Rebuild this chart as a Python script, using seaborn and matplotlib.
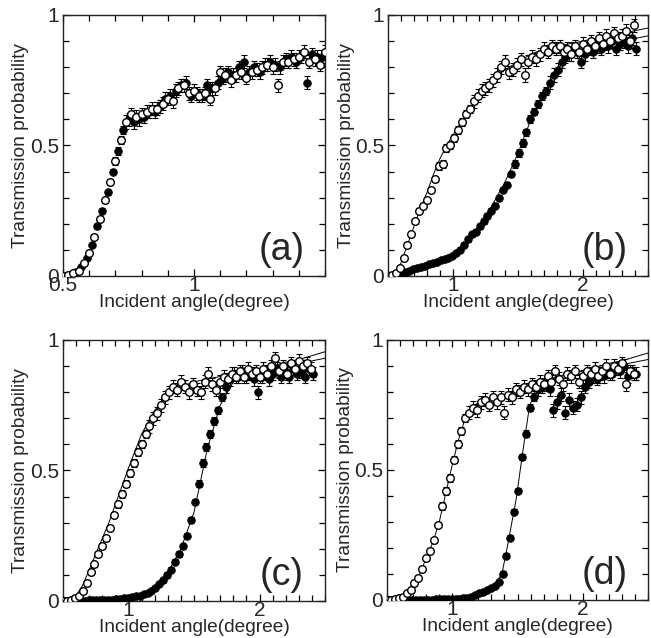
import numpy as np
import matplotlib
matplotlib.use("Agg")
import matplotlib.pyplot as plt
import seaborn as sns
from matplotlib.ticker import MultipleLocator

sns.set_style("ticks")
plt.rcParams['font.family'] = ['Liberation Sans', 'DejaVu Sans']

# --- panel (a): two data sets that overlap
xa_open = np.round(np.arange(0.50, 1.51, 0.02), 3)
ya_open = [0.00, 0.005, 0.01, 0.02, 0.05, 0.09, 0.15, 0.22, 0.29, 0.36,
           0.44, 0.52, 0.59, 0.62, 0.61, 0.62, 0.63, 0.64, 0.64, 0.66,
           0.68, 0.67, 0.72, 0.73, 0.70, 0.71, 0.69, 0.70, 0.68, 0.72,
           0.78, 0.77, 0.75, 0.77, 0.78, 0.76, 0.78, 0.79, 0.80, 0.81,
           0.80, 0.73, 0.82, 0.82, 0.83, 0.84, 0.86, 0.82, 0.83, 0.81,
           0.86]
ea_open = [0.005] * 6 + [0.01] * 4 + [0.015] * 2 + [0.025] * 39

xa_fill = np.round(np.arange(0.51, 1.50, 0.02), 3)
ya_fill = [0.00, 0.005, 0.015, 0.035, 0.07, 0.12, 0.19, 0.25, 0.32, 0.40,
           0.48, 0.56, 0.60, 0.59, 0.60, 0.61, 0.63, 0.63, 0.65, 0.68,
           0.69, 0.71, 0.73, 0.74, 0.69, 0.70, 0.69, 0.73, 0.72, 0.74,
           0.76, 0.78, 0.77, 0.80, 0.82, 0.78, 0.80, 0.78, 0.81, 0.82,
           0.81, 0.80, 0.83, 0.84, 0.82, 0.84, 0.74, 0.85, 0.84, 0.84]
ea_fill = [0.005] * 6 + [0.01] * 4 + [0.015] * 2 + [0.025] * 38

# --- panels (b)-(d): common angle grid
x_open = np.round(np.arange(0.50, 2.40, 0.03), 3)
x_fill = np.round(np.arange(0.515, 2.42, 0.03), 3)

yb_open = [0.00, 0.005, 0.01, 0.03, 0.07, 0.12, 0.16, 0.21, 0.25, 0.27,
           0.29, 0.33, 0.37, 0.42, 0.43, 0.49, 0.50, 0.53, 0.56, 0.59,
           0.62, 0.64, 0.67, 0.69, 0.71, 0.72, 0.73, 0.75, 0.77, 0.80,
           0.82, 0.78, 0.79, 0.81, 0.83, 0.77, 0.82, 0.84, 0.83, 0.85,
           0.87, 0.86, 0.88, 0.87, 0.88, 0.86, 0.87, 0.85, 0.88, 0.86,
           0.89, 0.87, 0.90, 0.88, 0.91, 0.89, 0.92, 0.90, 0.93, 0.91,
           0.92, 0.94, 0.90, 0.96]
eb_open = [0.005] * 5 + [0.01] * 8 + [0.015] * 9 + [0.025] * 42

yb_fill = [0.00, 0.00, 0.005, 0.01, 0.015, 0.02, 0.025, 0.03, 0.035, 0.04,
           0.045, 0.05, 0.055, 0.06, 0.065, 0.07, 0.075, 0.09, 0.10, 0.12,
           0.14, 0.16, 0.17, 0.19, 0.21, 0.23, 0.25, 0.27, 0.30, 0.33,
           0.35, 0.39, 0.43, 0.47, 0.51, 0.55, 0.60, 0.63, 0.66, 0.69,
           0.71, 0.74, 0.77, 0.79, 0.82, 0.84, 0.85, 0.87, 0.86, 0.82,
           0.85, 0.87, 0.86, 0.88, 0.87, 0.89, 0.88, 0.90, 0.87, 0.89,
           0.90, 0.88, 0.91, 0.87]
eb_fill = [0.005] * 19 + [0.01] * 13 + [0.015] * 9 + [0.025] * 23

yc_open = [0.00, 0.00, 0.005, 0.01, 0.02, 0.04, 0.07, 0.11, 0.14, 0.18,
           0.21, 0.24, 0.28, 0.33, 0.37, 0.41, 0.45, 0.49, 0.53, 0.57,
           0.60, 0.64, 0.67, 0.70, 0.72, 0.75, 0.78, 0.80, 0.82, 0.81,
           0.84, 0.82, 0.80, 0.83, 0.81, 0.80, 0.84, 0.87, 0.83, 0.81,
           0.84, 0.86, 0.85, 0.87, 0.86, 0.88, 0.86, 0.89, 0.87, 0.88,
           0.86, 0.89, 0.87, 0.90, 0.93, 0.88, 0.90, 0.87, 0.91, 0.89,
           0.92, 0.90, 0.91, 0.89]
ec_open = [0.005] * 6 + [0.01] * 8 + [0.015] * 8 + [0.025] * 42

yc_fill = [0.00, 0.00, 0.00, 0.00, 0.00, 0.00, 0.002, 0.002, 0.003, 0.003,
           0.004, 0.004, 0.005, 0.006, 0.008, 0.01, 0.012, 0.015, 0.018, 0.02,
           0.025, 0.03, 0.04, 0.05, 0.065, 0.08, 0.10, 0.12, 0.15, 0.18,
           0.21, 0.25, 0.31, 0.38, 0.45, 0.53, 0.59, 0.64, 0.69, 0.73,
           0.78, 0.82, 0.85, 0.87, 0.86, 0.88, 0.86, 0.87, 0.85, 0.80,
           0.86, 0.88, 0.85, 0.87, 0.89, 0.86, 0.88, 0.86, 0.89, 0.87,
           0.88, 0.86, 0.89, 0.87]
ec_fill = [0.004] * 25 + [0.01] * 9 + [0.015] * 7 + [0.025] * 23

yd_open = [0.00, 0.00, 0.003, 0.006, 0.012, 0.025, 0.04, 0.065, 0.085, 0.12,
           0.16, 0.19, 0.23, 0.29, 0.36, 0.42, 0.47, 0.54, 0.60, 0.65,
           0.70, 0.72, 0.74, 0.73, 0.76, 0.77, 0.75, 0.78, 0.76, 0.78,
           0.72, 0.79, 0.78, 0.81, 0.80, 0.82, 0.81, 0.83, 0.82, 0.84,
           0.83, 0.86, 0.84, 0.88, 0.85, 0.83, 0.87, 0.86, 0.88, 0.84,
           0.86, 0.88, 0.87, 0.89, 0.86, 0.88, 0.90, 0.87, 0.90, 0.89,
           0.91, 0.83, 0.88, 0.87]
ed_open = [0.004] * 7 + [0.01] * 7 + [0.015] * 7 + [0.025] * 43

yd_fill = [0.00, 0.00, 0.00, 0.00, 0.00, 0.00, 0.00, 0.00, 0.00, 0.00,
           0.00, 0.00, 0.002, 0.002, 0.002, 0.003, 0.003, 0.004, 0.005, 0.006,
           0.008, 0.012, 0.018, 0.025, 0.03, 0.04, 0.045, 0.055, 0.07, 0.10,
           0.17, 0.24, 0.34, 0.42, 0.55, 0.64, 0.74, 0.78, 0.81, 0.82,
           0.83, 0.81, 0.73, 0.76, 0.79, 0.72, 0.77, 0.74, 0.75, 0.78,
           0.82, 0.84, 0.86, 0.85, 0.87, 0.86, 0.88, 0.87, 0.89, 0.88,
           0.90, 0.86, 0.88, 0.87]
ed_fill = [0.004] * 29 + [0.01] * 6 + [0.015] * 3 + [0.025] * 26

# --- thin model curves
fx_bc = [0.50, 0.55, 0.60, 0.65, 0.70, 0.75, 0.80, 0.85, 0.90, 0.95, 1.00, 1.10,
         1.20, 1.30, 1.40, 1.50, 1.60, 1.70, 1.80, 1.90, 2.00, 2.10, 2.20, 2.30,
         2.40, 2.50]
fb_open = [0.0, 0.01, 0.05, 0.12, 0.19, 0.26, 0.32, 0.39, 0.45, 0.50, 0.54, 0.62,
           0.69, 0.75, 0.79, 0.82, 0.85, 0.87, 0.88, 0.89, 0.90, 0.91, 0.92, 0.93,
           0.94, 0.95]
fb_fill = [0.0, 0.002, 0.01, 0.015, 0.025, 0.035, 0.04, 0.05, 0.06, 0.07, 0.08, 0.13,
           0.19, 0.27, 0.36, 0.47, 0.60, 0.70, 0.79, 0.85, 0.87, 0.88, 0.89, 0.90,
           0.91, 0.92]
fc_open = [0.0, 0.005, 0.02, 0.06, 0.12, 0.18, 0.24, 0.30, 0.37, 0.44, 0.51, 0.64,
           0.73, 0.79, 0.82, 0.84, 0.85, 0.86, 0.87, 0.88, 0.89, 0.90, 0.915, 0.925,
           0.94, 0.955]
fc_fill = [0.0, 0.0, 0.0, 0.0, 0.0, 0.0, 0.0, 0.001, 0.002, 0.003, 0.005, 0.02,
           0.05, 0.11, 0.20, 0.34, 0.58, 0.75, 0.84, 0.86, 0.87, 0.88, 0.895, 0.91,
           0.92, 0.93]
fxd_open = [0.50, 0.55, 0.60, 0.65, 0.70, 0.75, 0.80, 0.85, 0.90, 0.95, 1.00, 1.05,
            1.10, 1.15, 1.20, 1.30, 1.40, 1.50, 1.60, 1.70, 1.80, 1.90, 2.00, 2.10,
            2.20, 2.30, 2.40, 2.50]
fd_open = [0.0, 0.003, 0.01, 0.03, 0.06, 0.10, 0.16, 0.22, 0.30, 0.41, 0.52, 0.62,
           0.70, 0.74, 0.76, 0.78, 0.79, 0.81, 0.83, 0.84, 0.86, 0.87, 0.88, 0.895,
           0.91, 0.92, 0.935, 0.95]
fxd_fill = [0.50, 0.80, 1.00, 1.10, 1.20, 1.30, 1.38, 1.42, 1.49, 1.54, 1.59, 1.63,
            1.70, 1.80, 1.90, 2.00, 2.10, 2.20, 2.30, 2.40, 2.50]
fd_fill = [0.0, 0.0, 0.003, 0.01, 0.02, 0.045, 0.10, 0.20, 0.39, 0.57, 0.74, 0.80,
           0.82, 0.84, 0.86, 0.87, 0.88, 0.895, 0.905, 0.915, 0.925]

MS = 30


def draw_points(ax, x, y, err, filled):
    ax.errorbar(x, y, yerr=err, fmt="none", ecolor="black", elinewidth=0.8,
                capsize=2.2, capthick=0.8, zorder=2)
    if filled:
        sns.scatterplot(x=x, y=y, ax=ax, s=MS, color="black", edgecolor="black",
                        linewidth=0.6, zorder=3)
    else:
        sns.scatterplot(x=x, y=y, ax=ax, s=MS, facecolor="white", edgecolor="black",
                        linewidth=1.0, zorder=4)


def style_axes(ax, xmax, xticks, xlabels, tag):
    ax.set_xlim(0.5, xmax)
    ax.set_ylim(0, 1)
    ax.set_xticks(xticks)
    ax.set_xticklabels(xlabels)
    ax.set_yticks([0, 0.5, 1])
    ax.set_yticklabels(["0", "0.5", "1"])
    ax.xaxis.set_minor_locator(MultipleLocator(0.1))
    ax.yaxis.set_minor_locator(MultipleLocator(0.1))
    ax.tick_params(which="both", direction="in", top=True, right=True,
                   width=0.9, color="black")
    ax.tick_params(which="major", length=5, labelsize=15)
    ax.tick_params(which="minor", length=4)
    ax.tick_params(axis="x", which="major", pad=0)
    ax.tick_params(axis="y", which="major", pad=3)
    for sp in ax.spines.values():
        sp.set_linewidth(1.0)
        sp.set_color("#222222")
    ax.set_xlabel("Incident angle(degree)", fontsize=13.8)
    ax.set_ylabel("Transmission probability", fontsize=13.8)
    ax.xaxis.set_label_coords(0.5, -0.07)
    ax.yaxis.set_label_coords(-0.128, 0.5)
    ax.text(0.835, 0.10, tag, transform=ax.transAxes, fontsize=27,
            ha="center", va="center")


fig = plt.figure(figsize=(6.51, 6.38), dpi=100)
ax_a = fig.add_axes([0.0968, 0.5674, 0.4025, 0.4091])
ax_b = fig.add_axes([0.5960, 0.5674, 0.3994, 0.4091])
ax_c = fig.add_axes([0.0968, 0.0580, 0.4025, 0.4091])
ax_d = fig.add_axes([0.5945, 0.0596, 0.4010, 0.4075])

# (a)
draw_points(ax_a, xa_fill, ya_fill, ea_fill, True)
draw_points(ax_a, xa_open, ya_open, ea_open, False)
style_axes(ax_a, 1.5, [0.5, 1.0], ["0.5", "1"], "(a)")

# (b)
sns.lineplot(x=fx_bc, y=fb_open, ax=ax_b, color="black", lw=0.7, estimator=None, sort=False, zorder=1)
sns.lineplot(x=fx_bc, y=fb_fill, ax=ax_b, color="black", lw=0.7, estimator=None, sort=False, zorder=1)
draw_points(ax_b, x_fill, yb_fill, eb_fill, True)
draw_points(ax_b, x_open, yb_open, eb_open, False)
style_axes(ax_b, 2.5, [1, 2], ["1", "2"], "(b)")

# (c)
sns.lineplot(x=fx_bc, y=fc_open, ax=ax_c, color="black", lw=0.7, estimator=None, sort=False, zorder=1)
sns.lineplot(x=fx_bc, y=fc_fill, ax=ax_c, color="black", lw=0.7, estimator=None, sort=False, zorder=1)
draw_points(ax_c, x_fill, yc_fill, ec_fill, True)
draw_points(ax_c, x_open, yc_open, ec_open, False)
style_axes(ax_c, 2.5, [1, 2], ["1", "2"], "(c)")

# (d)
sns.lineplot(x=fxd_open, y=fd_open, ax=ax_d, color="black", lw=0.7, estimator=None, sort=False, zorder=1)
sns.lineplot(x=fxd_fill, y=fd_fill, ax=ax_d, color="black", lw=0.7, estimator=None, sort=False, zorder=1)
draw_points(ax_d, x_fill, yd_fill, ed_fill, True)
draw_points(ax_d, x_open, yd_open, ed_open, False)
style_axes(ax_d, 2.5, [1, 2], ["1", "2"], "(d)")

fig.savefig("out.png", dpi=100)
plt.close(fig)
